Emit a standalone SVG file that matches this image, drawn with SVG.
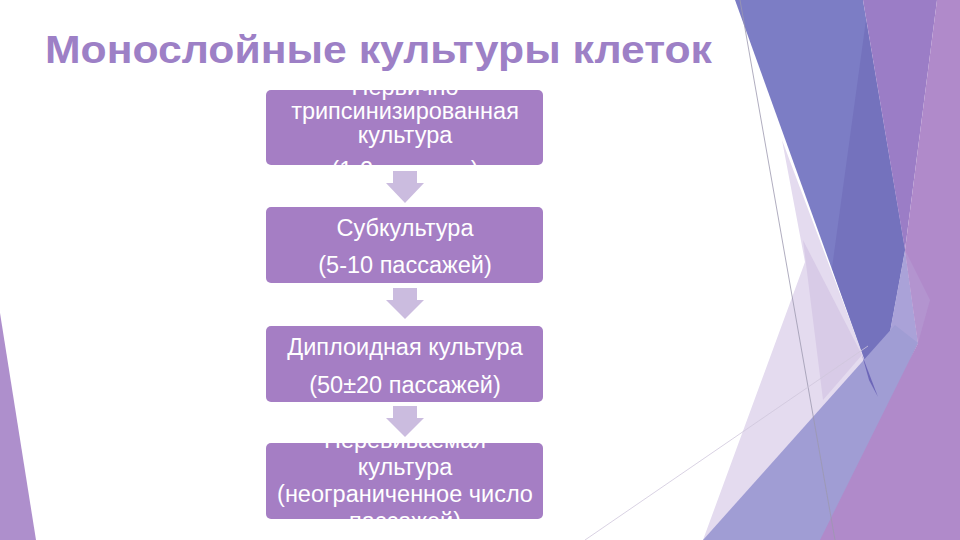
<svg xmlns="http://www.w3.org/2000/svg" width="960" height="540" viewBox="0 0 960 540">
<style>
.box{fill:#a57ec4;}
.lbl{font-family:"Liberation Sans",Arial,sans-serif;font-size:23.5px;fill:#ffffff;text-anchor:middle;}
.arr{fill:#cbbcdf;}
.title{font-family:"Liberation Sans",Arial,sans-serif;font-weight:bold;font-size:38px;fill:#9d80c6;}
.hair{stroke:#9c98ae;stroke-width:0.8;fill:none;}
.hair2{stroke:#cfc6dc;stroke-width:0.8;fill:none;}
</style>
<rect width="960" height="540" fill="#ffffff"/>
<g id="background">
  <polygon points="0,313 36,540 0,540" fill="#ae8fcc"/>
  <polygon points="782,140 805,262 703,540 870,540 880,400" fill="#e4dbef"/>
  <polygon points="803,240 862,355 823,400" fill="#d8cbe7"/>
  <polygon points="735,0 863,0 905,250 878,397" fill="#7c7dc5"/>
  <polygon points="866,20 832,268 878,397 905,250" fill="#7472bd"/>
  <polygon points="863,0 937,0 905,250" fill="#9b7dc6"/>
  <polygon points="905,250 918,343 860,450 878,397" fill="#aaa2d8"/>
  <polygon points="703,540 895,325 918,343 830,540" fill="#a09dd4"/>
  <polygon points="862,355 878,397 869,380" fill="#6c66b8"/>
  <polygon points="937,0 960,0 960,540 820,540 918,343 905,250" fill="#b08aca"/>
  <polygon points="905,250 918,343 930,300" fill="#b394cf"/>
  <line class="hair" x1="740" y1="0" x2="835" y2="540"/>
  <line class="hair2" x1="585" y1="540" x2="868" y2="346"/>
</g>
<g id="title">
  <text class="title" x="45" y="63" textLength="667" lengthAdjust="spacingAndGlyphs">Монослойные культуры клеток</text>
</g>
<g id="n1">
  <rect class="box" x="266" y="90" width="277" height="75" rx="5"/>
  <text class="lbl" x="405" y="95">Первично</text>
  <text class="lbl" x="405" y="119">трипсинизированная</text>
  <text class="lbl" x="405" y="143">культура</text>
  <text class="lbl" x="405" y="178">(1-2 пассажа)</text>
</g>
<g id="n2">
  <rect class="box" x="266" y="207" width="277" height="76" rx="5"/>
  <text class="lbl" x="405" y="236">Субкультура</text>
  <text class="lbl" x="405" y="273">(5-10 пассажей)</text>
</g>
<g id="n3">
  <rect class="box" x="266" y="326" width="277" height="76" rx="5"/>
  <text class="lbl" x="405" y="355">Диплоидная культура</text>
  <text class="lbl" x="405" y="393">(50±20 пассажей)</text>
</g>
<g id="n4">
  <rect class="box" x="266" y="443" width="277" height="76" rx="5"/>
  <text class="lbl" x="405" y="448">Перевиваемая</text>
  <text class="lbl" x="405" y="475">культура</text>
  <text class="lbl" x="405" y="502">(неограниченное число</text>
  <text class="lbl" x="405" y="529">пассажей)</text>
</g>
<g id="connectors">
  <polygon class="arr" points="393,171 417,171 417,183 424,183 405,203 386,183 393,183"/>
  <polygon class="arr" points="393,288 417,288 417,300 424,300 405,319 386,300 393,300"/>
  <polygon class="arr" points="393,406 417,406 417,418 424,418 405,437 386,418 393,418"/>
</g>
</svg>
